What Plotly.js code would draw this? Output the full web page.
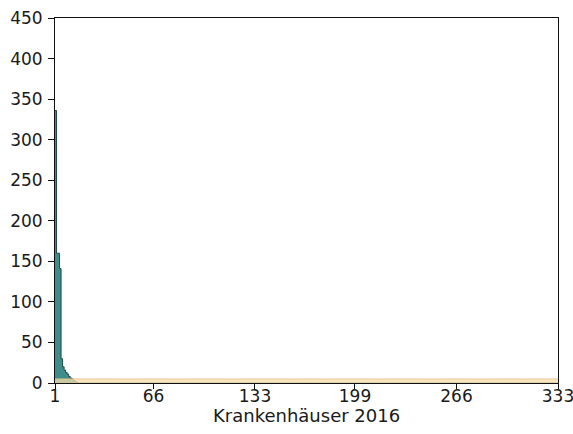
<!DOCTYPE html>
<html>
<head>
<meta charset="utf-8">
<script src="https://cdn.plot.ly/plotly-3.0.1.min.js"></script>
<style>html,body{margin:0;padding:0;background:#fff;}#chart{width:573px;height:434px;}</style>
</head>
<body>
<div id="chart"></div>
<script>
// Hospital rank (1..333) – category positions
const hospitalCount = 333;
const tickValues = [1, 66, 133, 199, 266, 333];
const tickLabels = ["1", "66", "133", "199", "266", "333"];
const xTitle = "Krankenhäuser 2016";

// Teal series: values per hospital (sorted descending)
const cases = [
336,160,160,141,30,20,16,13,11,8,6,5,3,2,1,0,0,0,0,0,0,0,0,0,0,0,0,0,0,0,0,0,0,0,0,0,0,
0,0,0,0,0,0,0,0,0,0,0,0,0,0,0,0,0,0,0,0,0,0,0,0,0,0,0,0,0,0,0,0,0,0,0,0,0,
0,0,0,0,0,0,0,0,0,0,0,0,0,0,0,0,0,0,0,0,0,0,0,0,0,0,0,0,0,0,0,0,0,0,0,0,0,
0,0,0,0,0,0,0,0,0,0,0,0,0,0,0,0,0,0,0,0,0,0,0,0,0,0,0,0,0,0,0,0,0,0,0,0,0,
0,0,0,0,0,0,0,0,0,0,0,0,0,0,0,0,0,0,0,0,0,0,0,0,0,0,0,0,0,0,0,0,0,0,0,0,0,
0,0,0,0,0,0,0,0,0,0,0,0,0,0,0,0,0,0,0,0,0,0,0,0,0,0,0,0,0,0,0,0,0,0,0,0,0,
0,0,0,0,0,0,0,0,0,0,0,0,0,0,0,0,0,0,0,0,0,0,0,0,0,0,0,0,0,0,0,0,0,0,0,0,0,
0,0,0,0,0,0,0,0,0,0,0,0,0,0,0,0,0,0,0,0,0,0,0,0,0,0,0,0,0,0,0,0,0,0,0,0,0,
0,0,0,0,0,0,0,0,0,0,0,0,0,0,0,0,0,0,0,0,0,0,0,0,0,0,0,0,0,0,0,0,0,0,0,0,0
];

// Tan series: reference band per hospital
const reference = [
5,5,5,5,5,5,5,5,5,5,5,5,5,5,5,5,5,5,5,5,5,5,5,5,5,5,5,5,5,5,5,5,5,5,5,5,5,
5,5,5,5,5,5,5,5,5,5,5,5,5,5,5,5,5,5,5,5,5,5,5,5,5,5,5,5,5,5,5,5,5,5,5,5,5,
5,5,5,5,5,5,5,5,5,5,5,5,5,5,5,5,5,5,5,5,5,5,5,5,5,5,5,5,5,5,5,5,5,5,5,5,5,
5,5,5,5,5,5,5,5,5,5,5,5,5,5,5,5,5,5,5,5,5,5,5,5,5,5,5,5,5,5,5,5,5,5,5,5,5,
5,5,5,5,5,5,5,5,5,5,5,5,5,5,5,5,5,5,5,5,5,5,5,5,5,5,5,5,5,5,5,5,5,5,5,5,5,
5,5,5,5,5,5,5,5,5,5,5,5,5,5,5,5,5,5,5,5,5,5,5,5,5,5,5,5,5,5,5,5,5,5,5,5,5,
5,5,5,5,5,5,5,5,5,5,5,5,5,5,5,5,5,5,5,5,5,5,5,5,5,5,5,5,5,5,5,5,5,5,5,5,5,
5,5,5,5,5,5,5,5,5,5,5,5,5,5,5,5,5,5,5,5,5,5,5,5,5,5,5,5,5,5,5,5,5,5,5,5,5,
5,5,5,5,5,5,5,5,5,5,5,5,5,5,5,5,5,5,5,5,5,5,5,5,5,5,5,5,5,5,5,5,5,5,5,5,5
];

const ranks = [];
for (let i = 1; i <= hospitalCount; i++) ranks.push(i);

const font = {family: "DejaVu Sans, Verdana, sans-serif", size: 17, color: "#1a1a1a"};

const traces = [
  {
    x: ranks, y: cases, type: "scatter", mode: "lines",
    line: {shape: "hv", color: "#1e4a48", width: 1},
    fill: "tozeroy", fillcolor: "#3f8d89",
    hoverinfo: "x+y", showlegend: false
  },
  {
    x: ranks, y: reference, type: "scatter", mode: "lines",
    line: {shape: "hv", color: "rgba(225,195,140,0.9)", width: 1},
    fill: "tozeroy", fillcolor: "rgba(246,222,172,0.75)",
    hoverinfo: "x+y", showlegend: false
  }
];

const layout = {
  width: 573, height: 434,
  margin: {l: 55, r: 15, t: 18, b: 51},
  paper_bgcolor: "#fff", plot_bgcolor: "#fff",
  font: font,
  xaxis: {
    range: [1, 333], tickmode: "array", tickvals: tickValues, ticktext: tickLabels,
    showgrid: false, zeroline: false, showline: true, mirror: true,
    linecolor: "#111", linewidth: 1, ticks: "outside", ticklen: 5, tickcolor: "#111",
    ticklabeloverflow: "allow", ticklabelstandoff: -7,
    tickfont: font
  },
  yaxis: {
    range: [0, 450], dtick: 50, tick0: 0,
    showgrid: false, zeroline: false, showline: true, mirror: true,
    linecolor: "#111", linewidth: 1, ticks: "outside", ticklen: 6, tickcolor: "#111",
    ticklabelstandoff: 2,
    tickfont: font
  },
  annotations: [{
    text: xTitle, xref: "paper", yref: "paper", x: 0.5, y: -0.09,
    xanchor: "center", yanchor: "middle", showarrow: false,
    font: {family: font.family, size: 18, color: "#1a1a1a"}
  }]
};

Plotly.newPlot("chart", traces, layout, {displayModeBar: false, staticPlot: true});
</script>
</body>
</html>
